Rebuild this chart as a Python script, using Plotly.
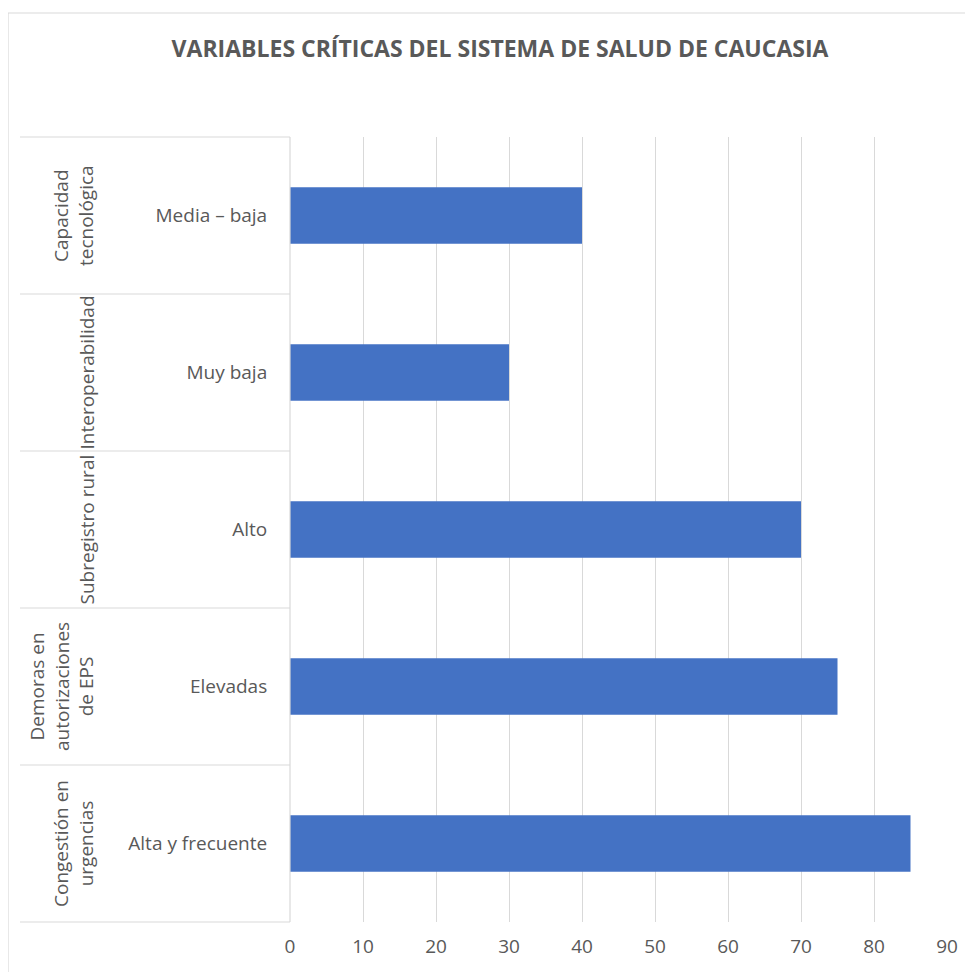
import plotly.graph_objects as go

# Data (bottom to top, as in Excel)
groups = ["Congestión en<br>urgencias", "Demoras en<br>autorizaciones<br>de EPS", "Subregistro rural",
          "Interoperabilidad", "Capacidad<br>tecnológica"]
subcats = ["Alta y frecuente", "Elevadas", "Alto", "Muy baja", "Media – baja"]
values = [85, 75, 70, 30, 40]
x_ticks = [0, 10, 20, 30, 40, 50, 60, 70, 80, 90]

OFF = 8  # page body margin
W, H = 973 - OFF, 972 - OFF
L, R, T, B = 290 - OFF, 947 - OFF, 137 - OFF, 922 - OFF
pw, ph = R - L, B - T

def px_x(p):
    return (p - OFF - L) / pw

def px_y(p):
    return (B - (p - OFF)) / ph

FONT = "Open Sans"
GRAY = "#595959"
LINE = "#d9d9d9"

fig = go.Figure()
fig.add_trace(go.Bar(
    y=subcats, x=values, orientation="h",
    marker=dict(color="#4472C4", line=dict(width=0)),
    width=0.36,
))

shapes = []
# outer chart border
shapes.append(dict(type="rect", xref="paper", yref="paper",
                   x0=px_x(8), x1=px_x(1000), y0=px_y(1000), y1=px_y(13),
                   line=dict(color=LINE, width=1.2), fillcolor="rgba(0,0,0,0)", layer="below"))
# category separators on the left
n = len(subcats)
for i in range(n + 1):
    yv = i / n
    shapes.append(dict(type="line", xref="paper", yref="paper",
                       x0=px_x(20), x1=0, y0=yv, y1=yv,
                       line=dict(color=LINE, width=1.2)))
# left axis line
shapes.append(dict(type="line", xref="paper", yref="paper",
                   x0=0, x1=0, y0=0, y1=1, line=dict(color=LINE, width=1.2)))

annotations = []
for i, g in enumerate(groups):
    annotations.append(dict(
        text=g, textangle=-90, xref="paper", yref="y",
        x=px_x(101), y=subcats[i], xanchor="right", yanchor="middle",
        showarrow=False, align="center",
        font=dict(family=FONT, size=19, color=GRAY),
    ))

fig.update_layout(
    width=W, height=H,
    margin=dict(l=L, r=W - R, t=T, b=H - B),
    paper_bgcolor="white", plot_bgcolor="white",
    showlegend=False,
    title=dict(text="<b>VARIABLES CRÍTICAS DEL SISTEMA DE SALUD DE CAUCASIA</b>",
               x=(500 - OFF) / W, xanchor="center", y=1 - (49 - OFF) / H, yanchor="middle",
               font=dict(family=FONT, size=23, color=GRAY)),
    xaxis=dict(range=[0, 90], tickvals=x_ticks, showgrid=True, gridcolor=LINE, gridwidth=1.2,
               zeroline=False, showline=False, ticks="outside", ticklen=7,
               tickcolor="rgba(0,0,0,0)",
               tickfont=dict(family=FONT, size=19, color=GRAY), fixedrange=True),
    yaxis=dict(type="category", categoryorder="array", categoryarray=subcats,
               showgrid=False, zeroline=False, showline=False,
               ticks="outside", ticklen=18, tickcolor="rgba(0,0,0,0)",
               tickfont=dict(family=FONT, size=19, color=GRAY)),
    shapes=shapes, annotations=annotations,
    bargap=0.64,
)

fig.write_html("out.html")
